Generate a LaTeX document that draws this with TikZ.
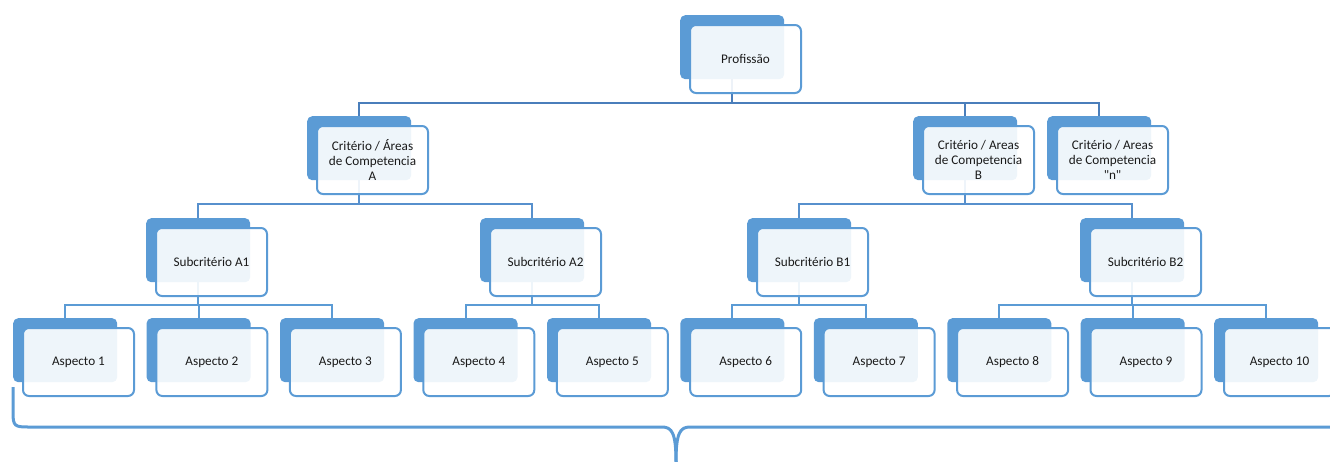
\documentclass[tikz,border=0pt]{standalone}
\usepackage{fontspec}
\setmainfont{Carlito}
\newfontfamily\carlitoraw{Carlito}
\definecolor{acc}{HTML}{5B9BD5}
\definecolor{conA}{HTML}{4A7EBB}
\definecolor{conB}{HTML}{5790CD}
\definecolor{conC}{HTML}{5B9BD5}
\definecolor{txt}{HTML}{1A1A1A}
\pgfdeclarelayer{bg}
\pgfsetlayers{bg,main}
\tikzset{
  backbox/.style={draw=none, fill=acc, rounded corners=5pt, minimum width=104pt, minimum height=64pt, inner sep=0pt, anchor=north west},
  frontbox/.style={draw=acc, line width=2pt, fill=white, fill opacity=0.9, text opacity=1, rounded corners=6pt, minimum width=111pt, minimum height=68pt, inner sep=0pt, anchor=north west, align=center, font=\fontsize{13.2}{15}\selectfont, text=txt},
  conn/.style={line width=2pt, line join=miter},
  braceline/.style={draw=acc, line width=3pt, line cap=butt}
}
\newcommand{\pairbox}[4]{%
  \node[backbox] (#1) at (#2,#3) {};
  \node[frontbox] (#1f) at (#2+9,#3+9) {#4};
}
\begin{document}
\begin{tikzpicture}[x=1pt,y=-1pt]
\useasboundingbox (0,0) rectangle (1330,461);
\clip (0,0) rectangle (1330,461);
\coordinate (bus0) at (0,103);
\coordinate (bus1) at (0,204);
\coordinate (bus2) at (0,305);

\pairbox{prof}{680}{15}{Profissão}
\pairbox{ca}{307}{116}{Critério / Áreas\\de Competencia\\A}
\pairbox{cb}{913}{116}{Critério / Areas\\de Competencia\\B}
\pairbox{cn}{1047}{116}{Critério / Areas\\de Competencia\\{\carlitoraw"n"}}
\pairbox{sa1}{146}{218}{Subcritério A1}
\pairbox{sa2}{480}{218}{Subcritério A2}
\pairbox{sb1}{747}{218}{Subcritério B1}
\pairbox{sb2}{1080}{218}{Subcritério B2}
\pairbox{a1}{13}{318}{Aspecto 1}
\pairbox{a2}{146.4}{318}{Aspecto 2}
\pairbox{a3}{279.9}{318}{Aspecto 3}
\pairbox{a4}{413.3}{318}{Aspecto 4}
\pairbox{a5}{546.8}{318}{Aspecto 5}
\pairbox{a6}{680.2}{318}{Aspecto 6}
\pairbox{a7}{813.6}{318}{Aspecto 7}
\pairbox{a8}{947.1}{318}{Aspecto 8}
\pairbox{a9}{1080.5}{318}{Aspecto 9}
\pairbox{a10}{1214}{318}{Aspecto 10}

\begin{pgfonlayer}{bg}
  \foreach \c in {ca,cb,cn}
    \draw[conn, conA] (prof.center) |- (bus0 -| \c.north) -- (\c.north);
  \foreach \c in {sa1,sa2}
    \draw[conn, conB] (ca.center) |- (bus1 -| \c.north) -- (\c.north);
  \foreach \c in {sb1,sb2}
    \draw[conn, conB] (cb.center) |- (bus1 -| \c.north) -- (\c.north);
  \foreach \c in {a1,a2,a3}
    \draw[conn, conC] (sa1.center) |- (bus2 -| \c.north) -- (\c.north);
  \foreach \c in {a4,a5}
    \draw[conn, conC] (sa2.center) |- (bus2 -| \c.north) -- (\c.north);
  \foreach \c in {a6,a7}
    \draw[conn, conC] (sb1.center) |- (bus2 -| \c.north) -- (\c.north);
  \foreach \c in {a8,a9,a10}
    \draw[conn, conC] (sb2.center) |- (bus2 -| \c.north) -- (\c.north);
\end{pgfonlayer}

% brace
\draw[braceline] (13,387) -- (13,413) .. controls (13,426) and (15,427) .. (28,427) -- (662,427)
  .. controls (672,427) and (676,433) .. (676,462);
\draw[braceline] (676,462) .. controls (676,433) and (680,427) .. (690,427) -- (1340,427);
\end{tikzpicture}
\end{document}
